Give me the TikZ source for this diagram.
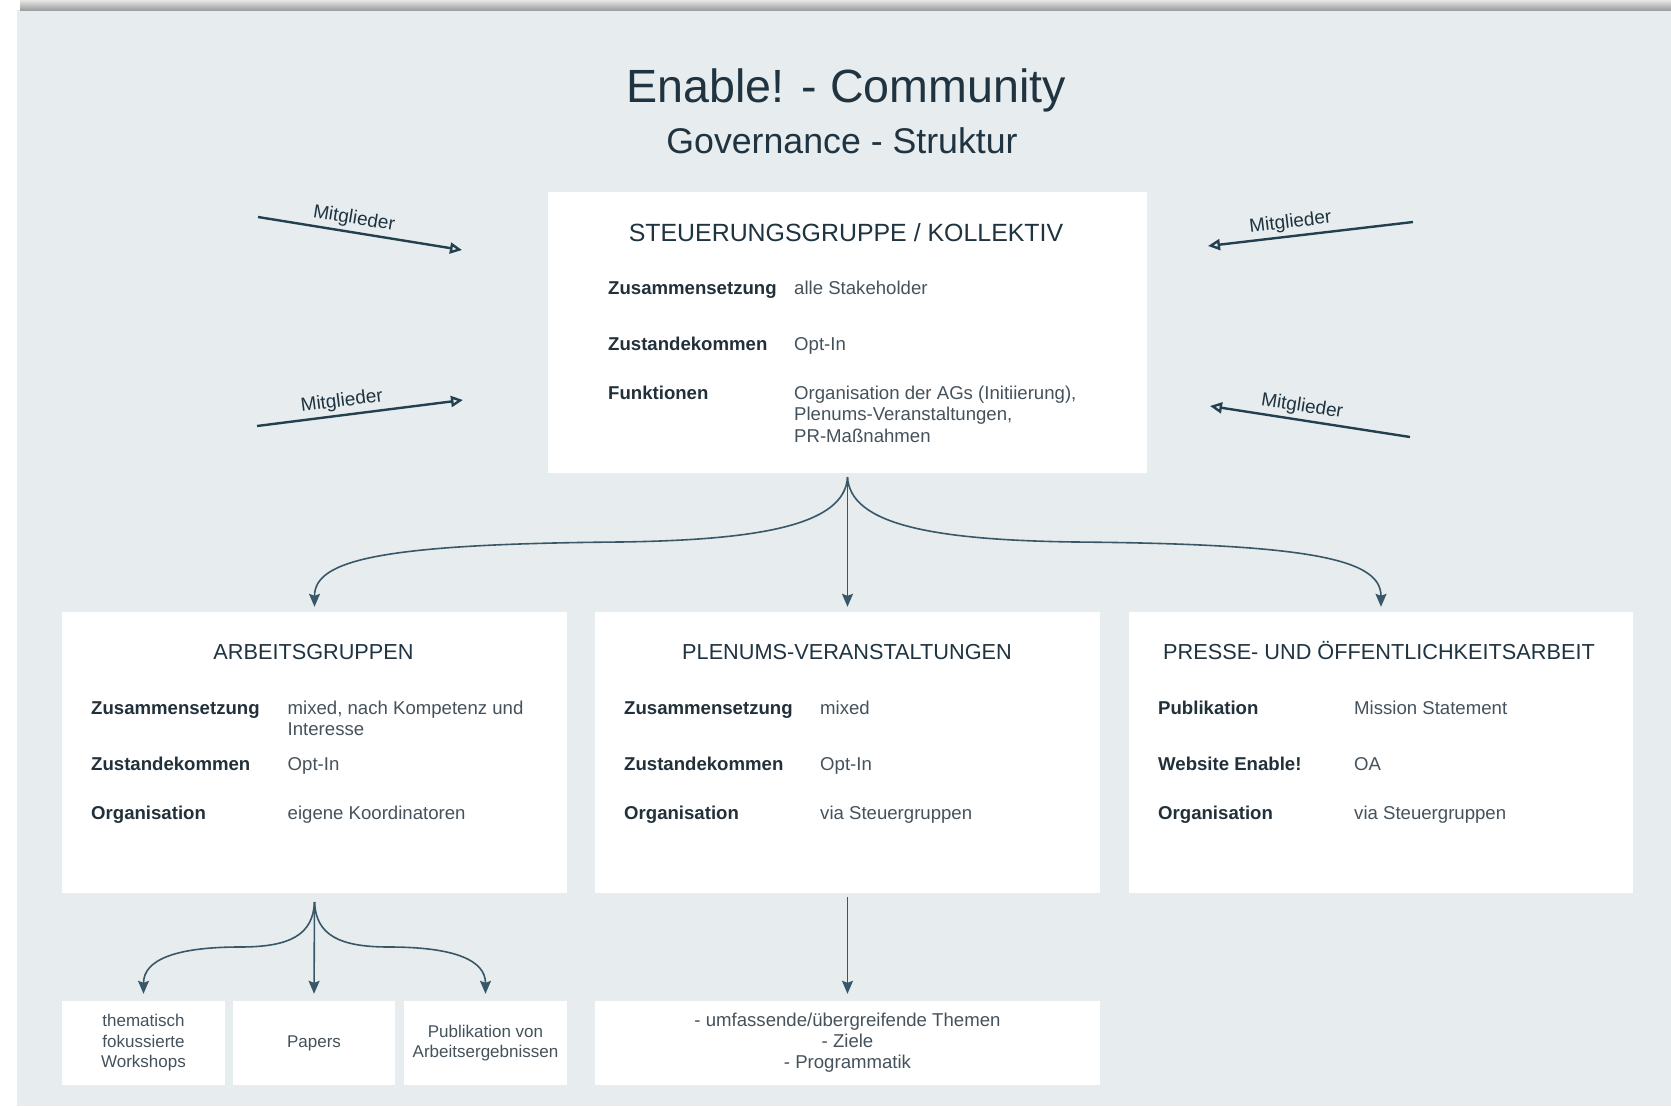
\documentclass[tikz,border=0pt]{standalone}
\usepackage{fontspec}
\setmainfont{Liberation Sans}
\usepackage{xcolor}
\usepackage{tikz}
\usetikzlibrary{arrows, arrows.meta}
\usetikzlibrary{positioning}
\usetikzlibrary{calc}
\definecolor{panelbg}{HTML}{E7ECEF}
\definecolor{inkdark}{HTML}{1F3440}
\definecolor{inklabel}{HTML}{22303A}
\definecolor{inkvalue}{HTML}{45525B}
\definecolor{arrowink}{HTML}{23404F}
\definecolor{fanink}{HTML}{3A5767}

\begin{document}
\begin{tikzpicture}[x=1pt, y=-1pt,
	box/.style={fill=white, draw=none, inner sep=0pt, minimum height=281pt, minimum width=505pt},
	subbox/.style={fill=white, inner sep=0pt, minimum height=84pt, text=inkvalue, align=center, font=\fontsize{17}{20.5}\selectfont},
	header/.style={anchor=base, text=inkdark, font=\fontsize{21.7}{26}\selectfont},
	rowlabel/.style={anchor=base west, inner sep=0pt, text=inklabel, font=\fontsize{18.6}{21.5}\selectfont\bfseries},
	rowvalue/.style={anchor=base west, inner sep=0pt, text=inkvalue, align=left, font=\fontsize{18.6}{21.5}\selectfont},
	member/.style={draw=arrowink, line width=2.4pt, -{Triangle[open, length=12pt, width=11pt]}},
	memberlabel/.style={sloped, above, text=inkdark, font=\fontsize{19}{22}\selectfont},
	fan/.style={draw=fanink, line width=1.6pt, -{Stealth[length=13pt, width=11pt, inset=2pt]}, shorten >=5pt}]
	\useasboundingbox (0,0) rectangle (1671,1106);
	\fill[white] (0,0) rectangle (1671,1106);
	\fill[panelbg] (17,10) rectangle (1671,1106);
	\shade[top color=gray!20, bottom color=gray!75] (20,0) rectangle (1671,10);
	
	% titel
	\node[anchor=base, text=inkdark, font=\fontsize{46.6}{50}\selectfont] (title) at (846,102) {Enable! - Community};
	\node[anchor=base, text=inkdark, font=\fontsize{35.7}{40}\selectfont] (subtitle) at (842,153) {Governance - Struktur};
	
	% kaesten
	\node[box, minimum width=599pt] (steuer) at (847.5,332.5) {};
	\node[box] (arbeit) at (314.5,752.5) {};
	\node[box] (plenum) at (847.5,752.5) {};
	\node[box, minimum width=504pt] (presse) at (1381,752.5) {};
	
	\node[header, font=\fontsize{24.9}{30}\selectfont] (steuerhead) at (846,241) {STEUERUNGSGRUPPE / KOLLEKTIV};
	\node[header] (arbeithead) at (313.5,659) {ARBEITSGRUPPEN};
	\node[header] (plenumhead) at (847,659) {PLENUMS-VERANSTALTUNGEN};
	\node[header] (pressehead) at (1379,659) {PRESSE- UND ÖFFENTLICHKEITSARBEIT};
	
	% zeilen: label/wert/baseline label/baseline letzte zeile wert
	\foreach \lab/\val/\yy/\vy [count=\iRow] in {Zusammensetzung/alle Stakeholder/294/294, Zustandekommen/Opt-In/350/350, Funktionen/{Organisation der AGs (Initiierung),\\Plenums-Veranstaltungen,\\PR-Maßnahmen}/399/442}
	{
		\node[rowlabel] (steuerlab\iRow) at (608,\yy) {\lab};
		\node[rowvalue] (steuerval\iRow) at (794,\vy) {\val};
	}
	\foreach \lab/\val/\yy/\vy [count=\iRow] in {Zusammensetzung/{mixed, nach Kompetenz und\\Interesse}/714/735.5, Zustandekommen/Opt-In/770/770, Organisation/eigene Koordinatoren/819/819}
	{
		\node[rowlabel] (arbeitlab\iRow) at (91,\yy) {\lab};
		\node[rowvalue] (arbeitval\iRow) at (287.5,\vy) {\val};
	}
	\foreach \lab/\val/\yy [count=\iRow] in {Zusammensetzung/mixed/714, Zustandekommen/Opt-In/770, Organisation/via Steuergruppen/819}
	{
		\node[rowlabel] (plenumlab\iRow) at (624,\yy) {\lab};
		\node[rowvalue] (plenumval\iRow) at (820,\yy) {\val};
	}
	\foreach \lab/\val/\yy [count=\iRow] in {Publikation/Mission Statement/714, Website Enable!/OA/770, Organisation/via Steuergruppen/819}
	{
		\node[rowlabel] (presselab\iRow) at (1158,\yy) {\lab};
		\node[rowvalue] (presseval\iRow) at (1354,\yy) {\val};
	}
	
	\node[subbox, minimum width=163pt] (workshops) at (143.5,1043) {thematisch\\fokussierte\\Workshops};
	\node[subbox, minimum width=162pt] (papers) at (314,1043) {Papers};
	\node[subbox, minimum width=163pt] (ergebnisse) at (485.5,1043) {Publikation von\\Arbeitsergebnissen};
	\node[subbox, minimum width=505pt, font=\fontsize{18.6}{21}\selectfont] (themen) at (847.5,1043) {- umfassende/übergreifende Themen\\- Ziele\\- Programmatik};
	
	% mitglieder
	\foreach \sx/\sy/\ex/\ey/\p [count=\iArrow] in {258/217/462/250/0.46, 257/426/463/400/0.42, 1413/222/1208/246/0.59, 1410/437/1210/406/0.55}
	{
		\coordinate (ms\iArrow) at (\sx,\sy);
		\coordinate (me\iArrow) at (\ex,\ey);
		\draw[member] (ms\iArrow) -- node[memberlabel, pos=\p] {Mitglieder} (me\iArrow);
	}
	
	% verzweigungen
	\coordinate (fanA) at (847.5,477);
	\draw[fan] (fanA) .. controls (845,525) and (760,540) .. (620,542) .. controls (380,544) and (314.5,560) .. (arbeit.north);
	\draw[fan] (fanA) -- (plenum.north);
	\draw[fan] (fanA) .. controls (850,525) and (935,540) .. (1075,542) .. controls (1315,544) and (1381,560) .. (presse.north);
	
	\coordinate (fanB) at (314.5,902);
	\draw[fan, shorten >=7pt] (fanB) .. controls (313,935) and (290,947) .. (240,947) .. controls (175,947) and (143.5,960) .. (workshops.north);
	\draw[fan, shorten >=7pt] (fanB) -- (papers.north);
	\draw[fan, shorten >=7pt] (fanB) .. controls (316,935) and (339,947) .. (389,947) .. controls (454,947) and (485.5,960) .. (ergebnisse.north);
	
	\coordinate (fanC) at (847.5,897);
	\draw[fan, shorten >=7pt] (fanC) -- (themen.north);
\end{tikzpicture}
\end{document}
